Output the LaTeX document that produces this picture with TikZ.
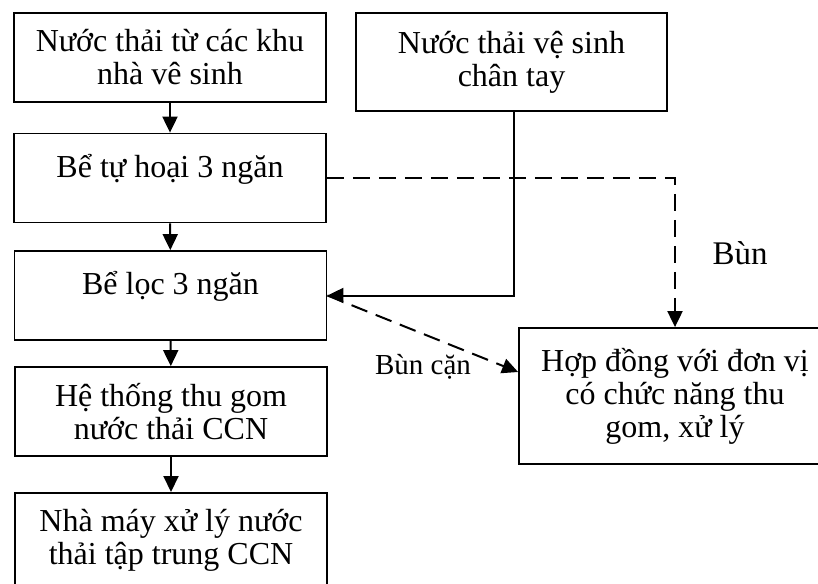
\documentclass[tikz,border=0pt]{standalone}
\usepackage{fontspec}
\setmainfont{Liberation Serif}
\usetikzlibrary{arrows.meta}
\begin{document}
\begin{tikzpicture}[x=1pt,y=-1pt,
  box/.style={draw,line width=1.8pt,minimum width=312pt,minimum height=89pt,inner sep=2pt,align=center,font=\fontsize{32}{33}\selectfont},
  flow/.style={line width=2pt,-{Triangle[length=16pt,width=15pt]}},
  sludge/.style={flow,dash pattern=on 17pt off 9pt}]
\useasboundingbox (0,0) rectangle (818,583);
\clip (0,0) rectangle (818,583);

\node[box] (wc) at (170,57.5) {Nước thải từ các khu\\nhà vê sinh};
\node[box,minimum width=311pt,minimum height=98pt] (hand) at (511.5,62) {Nước thải vệ sinh\\chân tay};
\node[box] (septic) at (170,178) {Bể tự hoại 3 ngăn\\[-8pt]\mbox{}};
\node[box] (filter) at (170.5,295.5) {Bể lọc 3 ngăn\\[-8pt]\mbox{}};
\node[box] (sewer) at (171,411.5) {Hệ thống thu gom\\nước thải CCN};
\node[box,anchor=north,minimum height=95pt] (plant) at (171,492) {Nhà máy xử lý nước\\thải tập trung CCN};
\node[box,minimum height=136pt] (contract) at (675,396) {Hợp đồng với đơn vị\\có chức năng thu\\gom, xử lý};

\node[font=\fontsize{33}{36}\selectfont] (lblsludge) at (740,253) {Bùn};
\node[font=\fontsize{29}{30}\selectfont] (lblresidue) at (423,367) {Bùn cặn};

\draw[flow] (wc) -- (septic);
\draw[flow] (septic) -- (filter);
\draw[flow] (filter) -- (sewer);
\draw[flow] (sewer) -- (plant);
\draw[flow] ([xshift=2.5pt]hand.south) |- (filter.east);
\draw[sludge] (septic.east) -| (contract.north);
\draw[sludge] (filter.east) -- ([yshift=24pt]contract.west);
\end{tikzpicture}
\end{document}
